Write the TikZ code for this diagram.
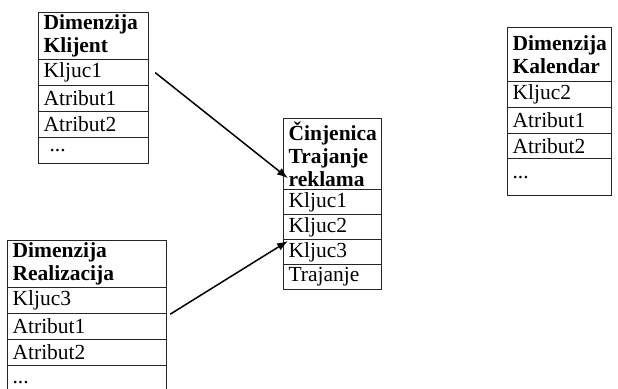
\documentclass[tikz,border=0pt]{standalone}
\usepackage{fontspec}
\setmainfont{Liberation Serif}
\usetikzlibrary{arrows.meta,calc}
\tikzset{
  cell/.style={draw=black!85, line width=1.2pt, anchor=north west, inner xsep=5pt, inner ysep=0pt,
    align=left, font=\fontsize{21.5}{23}\selectfont},
  hdr/.style={cell, font=\fontsize{21.5}{23}\selectfont\bfseries},
  link/.style={line width=1.5pt, -{Latex[length=11pt,width=8pt]}}
}
\begin{document}
\begin{tikzpicture}[x=1pt,y=-1pt]
\useasboundingbox (0,0) rectangle (618,388);
\clip (0,0) rectangle (618,388);
% Dimenzija Klijent
\node[hdr, text width=100pt, minimum height=47pt] (klh) at (38,12) {Dimenzija\\Klijent};
\node[cell, text width=100pt, minimum height=26pt] (kl1) at (38,59) {Kljuc1};
\node[cell, text width=100pt, minimum height=26pt] (kl2) at (38,85) {Atribut1};
\node[cell, text width=100pt, minimum height=26pt] (kl3) at (38,111) {Atribut2};
\node[cell, text width=100pt, minimum height=26pt] (kl4) at (38,137) {\hspace{6pt}...};
% Dimenzija Kalendar
\node[hdr, text width=94pt, minimum height=54pt] (kah) at (507,27) {Dimenzija\\Kalendar};
\node[cell, text width=94pt, minimum height=26pt] (ka1) at (507,81) {Kljuc2};
\node[cell, text width=94pt, minimum height=26pt] (ka2) at (507,107) {Atribut1};
\node[cell, text width=94pt, minimum height=25pt] (ka3) at (507,133) {Atribut2};
\node[cell, text width=94pt, minimum height=37pt] (ka4) at (507,158) {...};
% Cinjenica
\node[hdr, text width=88pt, minimum height=71pt] (ch) at (283,118) {Činjenica\\Trajanje\\reklama};
\node[cell, text width=88pt, minimum height=25pt] (c1) at (283,189) {Kljuc1};
\node[cell, text width=88pt, minimum height=25pt] (c2) at (283,214) {Kljuc2};
\node[cell, text width=88pt, minimum height=25pt] (c3) at (283,239) {Kljuc3};
\node[cell, text width=88pt, minimum height=25pt] (c4) at (283,264) {Trajanje};
% Dimenzija Realizacija
\node[hdr, text width=149pt, minimum height=47pt] (rh) at (7,240) {Dimenzija\\Realizacija};
\node[cell, text width=149pt, minimum height=26pt] (r1) at (7,287) {Kljuc3};
\node[cell, text width=149pt, minimum height=26pt] (r2) at (7,313) {Atribut1};
\node[cell, text width=149pt, minimum height=26pt] (r3) at (7,339) {Atribut2};
\node[cell, text width=149pt, minimum height=34pt] (r4) at (7,365) {...};
% connectors
\draw[link] ([xshift=6pt]kl1.east) -- ([xshift=5pt,yshift=12pt]ch.south west);
\draw[link] ([xshift=3pt]r1.south east) -- ([xshift=5pt,yshift=-2pt]c3.north west);
\end{tikzpicture}
\end{document}
